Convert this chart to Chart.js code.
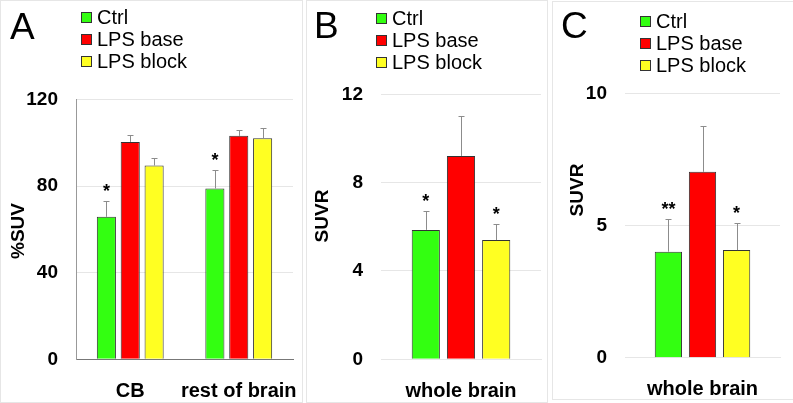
<!DOCTYPE html>
<html>
<head>
<meta charset="utf-8">
<script src="https://cdn.jsdelivr.net/npm/chart.js@4/dist/chart.umd.min.js"></script>
<style>
  body { margin: 0; background: #fff; font-family: "Liberation Sans", Arial, sans-serif; }
  .panel { position: absolute; border: 1px solid #e6e6e6; box-sizing: border-box; }
  .panel canvas { position: absolute; left: 0; top: 0; }
  .letter { position: absolute; font-size: 37px; line-height: 37px; color: #000; }
  .legend { position: absolute; font-size: 20px; color: #000; white-space: nowrap; }
  .legend .row { display: flex; align-items: center; height: 22px; }
  .legend .box { width: 11px; height: 11px; border: 1px solid #333; box-sizing: border-box; margin-right: 5px; }
</style>
</head>
<body>
<div class="panel" style="left:0;top:0;width:303px;height:403px">
  <canvas id="chartA" width="301" height="401"></canvas>
  <div class="letter" style="left:9px;top:7px">A</div>
  <div class="legend" id="legendA" style="left:80px;top:5px"></div>
</div>
<div class="panel" style="left:306px;top:0;width:242px;height:403px">
  <canvas id="chartB" width="240" height="401"></canvas>
  <div class="letter" style="left:7px;top:6px">B</div>
  <div class="legend" id="legendB" style="left:69px;top:6px"></div>
</div>
<div class="panel" style="left:552px;top:1px;width:242px;height:399px">
  <canvas id="chartC" width="240" height="397"></canvas>
  <div class="letter" style="left:8px;top:5px">C</div>
  <div class="legend" id="legendC" style="left:87px;top:8px"></div>
</div>
<script>
const seriesNames = ["Ctrl", "LPS base", "LPS block"];
const seriesColors = ["#33ff11", "#ff0000", "#ffff22"];

// panel A
const categoriesA = ["CB", "rest of brain"];
const ctrlA = [65.8, 78.9];
const ctrlErrA = [7.2, 8.5];
const baseA = [100.4, 103.2];
const baseErrA = [3.4, 2.9];
const blockA = [89.5, 102.1];
const blockErrA = [3.5, 4.8];
const starsA = [["*", "*"], ["", ""], ["", ""]];
const ticksA = [0, 40, 80, 120];

// panel B
const categoriesB = ["whole brain"];
const ctrlB = [5.86];
const ctrlErrB = [0.87];
const baseB = [9.21];
const baseErrB = [1.82];
const blockB = [5.4];
const blockErrB = [0.71];
const starsB = [["*"], [""], ["*"]];
const ticksB = [0, 4, 8, 12];

// panel C
const categoriesC = ["whole brain"];
const ctrlC = [4.01];
const ctrlErrC = [1.24];
const baseC = [7.03];
const baseErrC = [1.73];
const blockC = [4.07];
const blockErrC = [1.02];
const starsC = [["**"], [""], ["*"]];
const ticksC = [0, 5, 10];

const FONT = "'Liberation Sans', Arial, sans-serif";

const errorBars = {
  id: "errorBars",
  afterDatasetsDraw(chart) {
    const ctx = chart.ctx;
    const yScale = chart.scales.y;
    chart.data.datasets.forEach((ds, i) => {
      chart.getDatasetMeta(i).data.forEach((bar, j) => {
        const top = Math.round(yScale.getPixelForValue(ds.data[j] + ds.errors[j])) + 0.5;
        const x = Math.round(bar.x) + 0.5;
        ctx.save();
        ctx.strokeStyle = "#8c8c8c";
        ctx.lineWidth = 1;
        ctx.beginPath();
        ctx.moveTo(x, bar.y);
        ctx.lineTo(x, top);
        ctx.moveTo(x - 3, top);
        ctx.lineTo(x + 3, top);
        ctx.stroke();
        if (ds.stars[j]) {
          ctx.fillStyle = "#000";
          ctx.font = "bold 18px " + FONT;
          ctx.textAlign = "center";
          ctx.textBaseline = "alphabetic";
          ctx.fillText(ds.stars[j], bar.x, top - 5);
        }
        ctx.restore();
      });
    });
  },
};

const yTitle = {
  id: "yTitle",
  afterDraw(chart, args, opts) {
    const ctx = chart.ctx;
    ctx.save();
    ctx.translate(opts.x, opts.y);
    ctx.rotate(-Math.PI / 2);
    ctx.font = "bold 19px " + FONT;
    ctx.fillStyle = "#000";
    ctx.textAlign = "center";
    ctx.textBaseline = "middle";
    ctx.fillText(opts.text, 0, 0);
    ctx.restore();
  },
};

function buildLegend(id) {
  const el = document.getElementById(id);
  el.innerHTML = seriesNames
    .map((name, i) => `<div class="row"><span class="box" style="background:${seriesColors[i]}"></span>${name}</div>`)
    .join("");
}

function drawPanel(id, p) {
  new Chart(document.getElementById(id), {
    type: "bar",
    data: {
      labels: p.labels,
      datasets: p.values.map((v, i) => ({
        label: seriesNames[i],
        data: v,
        errors: p.errors[i],
        stars: p.stars[i],
        backgroundColor: seriesColors[i],
        borderColor: "#333",
        borderWidth: 1,
        categoryPercentage: 0.66,
        barPercentage: 0.8,
      })),
    },
    options: {
      responsive: false,
      animation: false,
      layout: { padding: { top: p.top, right: p.right, left: 0, bottom: 0 } },
      plugins: {
        legend: { display: false },
        tooltip: { enabled: false },
        yTitle: { text: p.title, x: p.titleX, y: p.titleY },
      },
      scales: {
        x: {
          grid: { display: false },
          border: { display: true, color: p.xBorder, width: 1 },
          ticks: {
            color: "#000",
            padding: 12,
            autoSkip: false,
            maxRotation: 0,
            minRotation: 0,
            font: { family: FONT, size: 20, weight: "bold" },
          },
          afterFit: (s) => {
            s.height = p.xh;
            s.paddingLeft = 0;
            s.paddingRight = 0;
          },
        },
        y: {
          min: p.ticks[0],
          max: p.ticks[p.ticks.length - 1],
          grid: { color: "#e6e6e6", drawTicks: false },
          border: { display: p.yBorder, color: "#999", width: 1 },
          ticks: {
            stepSize: p.ticks[1] - p.ticks[0],
            color: "#000",
            padding: 18,
            font: { family: FONT, size: 19, weight: "bold" },
          },
          afterFit: (s) => {
            s.width = p.yw;
            s.paddingTop = 0;
            s.paddingBottom = 0;
          },
        },
      },
    },
    plugins: [errorBars, yTitle],
  });
}

buildLegend("legendA");
buildLegend("legendB");
buildLegend("legendC");

drawPanel("chartA", {
  labels: categoriesA,
  values: [ctrlA, baseA, blockA],
  errors: [ctrlErrA, baseErrA, blockErrA],
  stars: starsA,
  ticks: ticksA,
  title: "%SUV", titleX: 17.5, titleY: 230,
  top: 98.5, right: 9, yw: 75, xh: 42.7,
  xBorder: "#777", yBorder: true,
});

drawPanel("chartB", {
  labels: categoriesB,
  values: [ctrlB, baseB, blockB],
  errors: [ctrlErrB, baseErrB, blockErrB],
  stars: starsB,
  ticks: ticksB,
  title: "SUVR", titleX: 16, titleY: 215,
  top: 93.3, right: 6, yw: 74, xh: 42.7,
  xBorder: "#e6e6e6", yBorder: false,
});

drawPanel("chartC", {
  labels: categoriesC,
  values: [ctrlC, baseC, blockC],
  errors: [ctrlErrC, baseErrC, blockErrC],
  stars: starsC,
  ticks: ticksC,
  title: "SUVR", titleX: 24.5, titleY: 188,
  top: 91.3, right: 13, yw: 72, xh: 41.3,
  xBorder: "#e6e6e6", yBorder: false,
});
</script>
</body>
</html>
